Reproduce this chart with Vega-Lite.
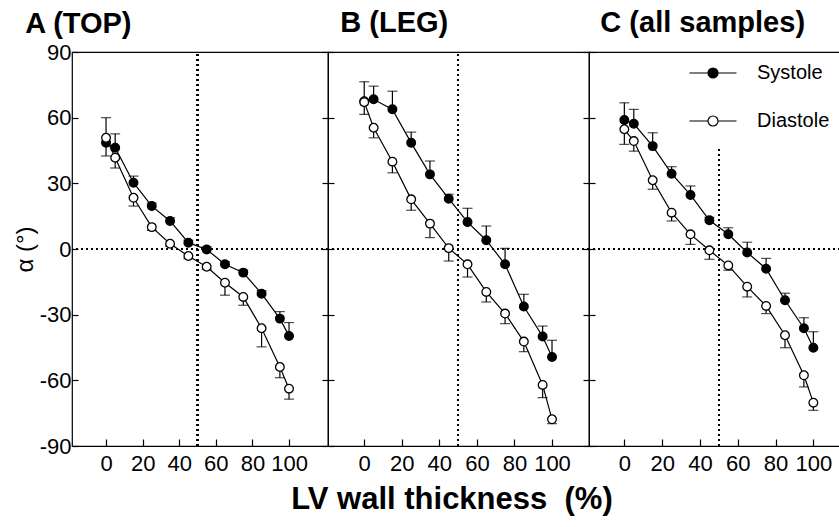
{
  "$schema": "https://vega.github.io/schema/vega-lite/v6.json",
  "padding": {"left": 12, "top": 8, "right": 0, "bottom": 4},
  "background": "white",
  "config": {
    "view": {"stroke": "black", "strokeWidth": 1.2},
    "font": "Liberation Sans",
    "axis": {"domain": false, "grid": false, "tickColor": "black", "labelColor": "black", "titleColor": "black", "labelFont": "Liberation Sans", "titleFont": "Liberation Sans", "tickWidth": 1.2}
  },
  "title": {"text": "LV wall thickness\u00a0\u00a0(%)", "orient": "bottom", "anchor": "middle", "fontSize": 31, "fontWeight": "bold", "font": "Liberation Sans", "color": "black", "offset": 10, "dx": 25},
  "spacing": 0,
  "bounds": "flush",
  "data": {"values": [
    {"p": "A", "s": "Systole", "x": 0, "y": 48.5, "e": 60},
    {"p": "A", "s": "Systole", "x": 5, "y": 46.3, "e": 52.6},
    {"p": "A", "s": "Systole", "x": 15, "y": 30.3, "e": 33.3},
    {"p": "A", "s": "Systole", "x": 25, "y": 19.6, "e": 21},
    {"p": "A", "s": "Systole", "x": 35, "y": 12.8, "e": 14.3},
    {"p": "A", "s": "Systole", "x": 45, "y": 2.9, "e": 4},
    {"p": "A", "s": "Systole", "x": 55, "y": -0.2, "e": 1},
    {"p": "A", "s": "Systole", "x": 65, "y": -7, "e": -5.8},
    {"p": "A", "s": "Systole", "x": 75, "y": -10.8, "e": -9.6},
    {"p": "A", "s": "Systole", "x": 85, "y": -20.4, "e": -19},
    {"p": "A", "s": "Systole", "x": 95, "y": -31.8, "e": -28.6},
    {"p": "A", "s": "Systole", "x": 100, "y": -39.7, "e": -33.6},
    {"p": "A", "s": "Diastole", "x": 0, "y": 50.8, "e": 42.5},
    {"p": "A", "s": "Diastole", "x": 5, "y": 41.7, "e": 37},
    {"p": "A", "s": "Diastole", "x": 15, "y": 23.4, "e": 19.6},
    {"p": "A", "s": "Diastole", "x": 25, "y": 10, "e": 8.5},
    {"p": "A", "s": "Diastole", "x": 35, "y": 2.4, "e": 1.2},
    {"p": "A", "s": "Diastole", "x": 45, "y": -3.2, "e": -4.4},
    {"p": "A", "s": "Diastole", "x": 55, "y": -8.1, "e": -9.3},
    {"p": "A", "s": "Diastole", "x": 65, "y": -15.4, "e": -21.1},
    {"p": "A", "s": "Diastole", "x": 75, "y": -21.9, "e": -25.7},
    {"p": "A", "s": "Diastole", "x": 85, "y": -36.2, "e": -44.7},
    {"p": "A", "s": "Diastole", "x": 95, "y": -53.9, "e": -58.8},
    {"p": "A", "s": "Diastole", "x": 100, "y": -63.8, "e": -68.6},
    {"p": "B", "s": "Systole", "x": 0, "y": 67.5, "e": 76.4},
    {"p": "B", "s": "Systole", "x": 5, "y": 68.4, "e": 74.4},
    {"p": "B", "s": "Systole", "x": 15, "y": 63.8, "e": 72.1},
    {"p": "B", "s": "Systole", "x": 25, "y": 48.5, "e": 53.4},
    {"p": "B", "s": "Systole", "x": 35, "y": 34.1, "e": 40.2},
    {"p": "B", "s": "Systole", "x": 45, "y": 23, "e": 25},
    {"p": "B", "s": "Systole", "x": 55, "y": 12.3, "e": 18.6},
    {"p": "B", "s": "Systole", "x": 65, "y": 4, "e": 10.5},
    {"p": "B", "s": "Systole", "x": 75, "y": -7, "e": 0.3},
    {"p": "B", "s": "Systole", "x": 85, "y": -26.3, "e": -20.7},
    {"p": "B", "s": "Systole", "x": 95, "y": -40, "e": -35.2},
    {"p": "B", "s": "Systole", "x": 100, "y": -49.3, "e": -41.7},
    {"p": "B", "s": "Diastole", "x": 0, "y": 67.1, "e": 61.5},
    {"p": "B", "s": "Diastole", "x": 5, "y": 55.4, "e": 50.8},
    {"p": "B", "s": "Diastole", "x": 15, "y": 39.9, "e": 34.8},
    {"p": "B", "s": "Diastole", "x": 25, "y": 22.7, "e": 17.7},
    {"p": "B", "s": "Diastole", "x": 35, "y": 11.6, "e": 5.2},
    {"p": "B", "s": "Diastole", "x": 45, "y": 0.4, "e": -5.5},
    {"p": "B", "s": "Diastole", "x": 55, "y": -7, "e": -12.8},
    {"p": "B", "s": "Diastole", "x": 65, "y": -19.6, "e": -24.2},
    {"p": "B", "s": "Diastole", "x": 75, "y": -29.5, "e": -34.1},
    {"p": "B", "s": "Diastole", "x": 85, "y": -42.3, "e": -46.9},
    {"p": "B", "s": "Diastole", "x": 95, "y": -62.1, "e": -67.9},
    {"p": "B", "s": "Diastole", "x": 100, "y": -77.8, "e": -79.8},
    {"p": "C", "s": "Systole", "x": 0, "y": 58.9, "e": 66.8},
    {"p": "C", "s": "Systole", "x": 5, "y": 57.2, "e": 63.8},
    {"p": "C", "s": "Systole", "x": 15, "y": 47, "e": 53.1},
    {"p": "C", "s": "Systole", "x": 25, "y": 34.4, "e": 37.6},
    {"p": "C", "s": "Systole", "x": 35, "y": 24.7, "e": 28.8},
    {"p": "C", "s": "Systole", "x": 45, "y": 13.1, "e": 14.5},
    {"p": "C", "s": "Systole", "x": 55, "y": 6.7, "e": 9.7},
    {"p": "C", "s": "Systole", "x": 65, "y": -1.6, "e": 3.1},
    {"p": "C", "s": "Systole", "x": 75, "y": -9, "e": -4.3},
    {"p": "C", "s": "Systole", "x": 85, "y": -23.4, "e": -20.2},
    {"p": "C", "s": "Systole", "x": 95, "y": -36.2, "e": -31.4},
    {"p": "C", "s": "Systole", "x": 100, "y": -45.1, "e": -37.8},
    {"p": "C", "s": "Diastole", "x": 0, "y": 54.7, "e": 47.8},
    {"p": "C", "s": "Diastole", "x": 5, "y": 49.3, "e": 44.7},
    {"p": "C", "s": "Diastole", "x": 15, "y": 31.4, "e": 27.3},
    {"p": "C", "s": "Diastole", "x": 25, "y": 16.6, "e": 12.8},
    {"p": "C", "s": "Diastole", "x": 35, "y": 6.7, "e": 2.1},
    {"p": "C", "s": "Diastole", "x": 45, "y": -0.6, "e": -4.7},
    {"p": "C", "s": "Diastole", "x": 55, "y": -7.5, "e": -9.7},
    {"p": "C", "s": "Diastole", "x": 65, "y": -17.2, "e": -21.9},
    {"p": "C", "s": "Diastole", "x": 75, "y": -26, "e": -29.5},
    {"p": "C", "s": "Diastole", "x": 85, "y": -39.4, "e": -45.1},
    {"p": "C", "s": "Diastole", "x": 95, "y": -57.7, "e": -63},
    {"p": "C", "s": "Diastole", "x": 100, "y": -70.2, "e": -73.7}
  ]},
  "hconcat": [
    {
      "width": 256, "height": 394,
      "title": {"text": "A (TOP)", "anchor": "start", "dx": 12, "fontSize": 29, "fontWeight": "bold", "font": "Liberation Sans", "color": "black", "offset": 2},
      "transform": [{"filter": "datum.p === 'A'"}],
      "resolve": {"axis": {"y": "independent"}},
      "layer": [
        {"mark": {"type": "rule", "strokeDash": [2, 3], "strokeWidth": 1.3, "color": "black"},
         "encoding": {
           "x": {"datum": 50, "type": "quantitative", "scale": {"domain": [-18.6, 121.3], "nice": false, "zero": false}},
           "y": {"datum": -90, "type": "quantitative", "scale": {"domain": [-90, 90], "nice": false, "zero": false}, "axis": null},
           "y2": {"datum": 90}}},
        {"mark": {"type": "rule", "strokeDash": [2, 3], "strokeWidth": 1.3, "color": "black"},
         "encoding": {"y": {"datum": 0, "type": "quantitative", "scale": {"domain": [-90, 90], "nice": false, "zero": false}, "axis": null}}},
        {"mark": {"type": "line", "color": "black", "strokeWidth": 1.2},
         "encoding": {
           "x": {"field": "x", "type": "quantitative", "scale": {"domain": [-18.6, 121.3], "nice": false, "zero": false},
                 "axis": {"values": [0, 20, 40, 60, 80, 100], "tickSize": -7, "labelPadding": 14, "labelFontSize": 22, "title": null, "labelFlush": false}},
           "y": {"field": "y", "type": "quantitative", "scale": {"domain": [-90, 90], "nice": false, "zero": false},
                 "axis": {"values": [-90, -60, -30, 0, 30, 60, 90], "tickSize": -6, "labelPadding": 7, "labelFontSize": 22, "labelFlush": false, "labelExpr": "replace(datum.label, '−', '-')", "title": "α (°)", "titleFontSize": 24, "titleFontWeight": "normal", "titlePadding": 2}},
           "detail": {"field": "s"}}},
        {"mark": {"type": "rule", "color": "black", "strokeWidth": 1.2},
         "encoding": {
           "x": {"field": "x", "type": "quantitative", "scale": {"domain": [-18.6, 121.3], "nice": false, "zero": false}},
           "y": {"field": "y", "type": "quantitative", "scale": {"domain": [-90, 90], "nice": false, "zero": false}, "axis": null},
           "y2": {"field": "e"}}},
        {"mark": {"type": "tick", "orient": "horizontal", "color": "black", "thickness": 1.2, "size": 10},
         "encoding": {
           "x": {"field": "x", "type": "quantitative", "scale": {"domain": [-18.6, 121.3], "nice": false, "zero": false}},
           "y": {"field": "e", "type": "quantitative", "scale": {"domain": [-90, 90], "nice": false, "zero": false},
                 "axis": {"orient": "right", "values": [-90, -60, -30, 0, 30, 60, 90], "tickSize": -6, "labels": false, "title": null, "minExtent": 0, "maxExtent": 0}}}},
        {"mark": {"type": "point", "shape": "circle", "filled": false, "stroke": "black", "strokeWidth": 1.3, "size": 75, "opacity": 1},
         "encoding": {
           "x": {"field": "x", "type": "quantitative", "scale": {"domain": [-18.6, 121.3], "nice": false, "zero": false}},
           "y": {"field": "y", "type": "quantitative", "scale": {"domain": [-90, 90], "nice": false, "zero": false}, "axis": null},
           "fill": {"field": "s", "type": "nominal", "scale": {"domain": ["Systole", "Diastole"], "range": ["black", "white"]}, "legend": null}}}
      ]
    },
    {
      "width": 261, "height": 394,
      "title": {"text": "B (LEG)", "anchor": "start", "dx": 13, "fontSize": 29, "fontWeight": "bold", "font": "Liberation Sans", "color": "black", "offset": 13},
      "transform": [{"filter": "datum.p === 'B'"}],
      "resolve": {"axis": {"y": "independent"}},
      "layer": [
        {"mark": {"type": "rule", "strokeDash": [2, 3], "strokeWidth": 1.3, "color": "black"},
         "encoding": {
           "x": {"datum": 50, "type": "quantitative", "scale": {"domain": [-19.3, 119.7], "nice": false, "zero": false}},
           "y": {"datum": -90, "type": "quantitative", "scale": {"domain": [-90, 90], "nice": false, "zero": false}, "axis": null},
           "y2": {"datum": 90}}},
        {"mark": {"type": "rule", "strokeDash": [2, 3], "strokeWidth": 1.3, "color": "black"},
         "encoding": {"y": {"datum": 0, "type": "quantitative", "scale": {"domain": [-90, 90], "nice": false, "zero": false}, "axis": null}}},
        {"mark": {"type": "line", "color": "black", "strokeWidth": 1.2},
         "encoding": {
           "x": {"field": "x", "type": "quantitative", "scale": {"domain": [-19.3, 119.7], "nice": false, "zero": false},
                 "axis": {"values": [0, 20, 40, 60, 80, 100], "tickSize": -7, "labelPadding": 14, "labelFontSize": 22, "title": null, "labelFlush": false}},
           "y": {"field": "y", "type": "quantitative", "scale": {"domain": [-90, 90], "nice": false, "zero": false},
                 "axis": {"values": [-90, -60, -30, 0, 30, 60, 90], "tickSize": -6, "labels": false, "title": null, "minExtent": 0, "maxExtent": 0}},
           "detail": {"field": "s"}}},
        {"mark": {"type": "rule", "color": "black", "strokeWidth": 1.2},
         "encoding": {
           "x": {"field": "x", "type": "quantitative", "scale": {"domain": [-19.3, 119.7], "nice": false, "zero": false}},
           "y": {"field": "y", "type": "quantitative", "scale": {"domain": [-90, 90], "nice": false, "zero": false}, "axis": null},
           "y2": {"field": "e"}}},
        {"mark": {"type": "tick", "orient": "horizontal", "color": "black", "thickness": 1.2, "size": 10},
         "encoding": {
           "x": {"field": "x", "type": "quantitative", "scale": {"domain": [-19.3, 119.7], "nice": false, "zero": false}},
           "y": {"field": "e", "type": "quantitative", "scale": {"domain": [-90, 90], "nice": false, "zero": false},
                 "axis": {"orient": "right", "values": [-90, -60, -30, 0, 30, 60, 90], "tickSize": -6, "labels": false, "title": null, "minExtent": 0, "maxExtent": 0}}}},
        {"mark": {"type": "point", "shape": "circle", "filled": false, "stroke": "black", "strokeWidth": 1.3, "size": 75, "opacity": 1},
         "encoding": {
           "x": {"field": "x", "type": "quantitative", "scale": {"domain": [-19.3, 119.7], "nice": false, "zero": false}},
           "y": {"field": "y", "type": "quantitative", "scale": {"domain": [-90, 90], "nice": false, "zero": false}, "axis": null},
           "fill": {"field": "s", "type": "nominal", "scale": {"domain": ["Systole", "Diastole"], "range": ["black", "white"]}, "legend": null}}}
      ]
    },
    {
      "width": 251, "height": 394,
      "title": {"text": "C (all samples)", "anchor": "start", "dx": 12, "fontSize": 29, "fontWeight": "bold", "font": "Liberation Sans", "color": "black", "offset": 13},
      "transform": [{"filter": "datum.p === 'C'"}],
      "resolve": {"axis": {"y": "independent"}},
      "layer": [
        {"mark": {"type": "rule", "strokeDash": [2, 3], "strokeWidth": 1.3, "color": "black"},
         "encoding": {
           "x": {"datum": 50, "type": "quantitative", "scale": {"domain": [-18.7, 114.1], "nice": false, "zero": false}},
           "y": {"datum": -90, "type": "quantitative", "scale": {"domain": [-90, 90], "nice": false, "zero": false}, "axis": null},
           "y2": {"datum": 46}}},
        {"mark": {"type": "rule", "strokeDash": [2, 3], "strokeWidth": 1.3, "color": "black"},
         "encoding": {"y": {"datum": 0, "type": "quantitative", "scale": {"domain": [-90, 90], "nice": false, "zero": false}, "axis": null}}},
        {"mark": {"type": "line", "color": "black", "strokeWidth": 1.2},
         "encoding": {
           "x": {"field": "x", "type": "quantitative", "scale": {"domain": [-18.7, 114.1], "nice": false, "zero": false},
                 "axis": {"values": [0, 20, 40, 60, 80, 100], "tickSize": -7, "labelPadding": 14, "labelFontSize": 22, "title": null, "labelFlush": false}},
           "y": {"field": "y", "type": "quantitative", "scale": {"domain": [-90, 90], "nice": false, "zero": false},
                 "axis": {"values": [-90, -60, -30, 0, 30, 60, 90], "tickSize": -6, "labels": false, "title": null, "minExtent": 0, "maxExtent": 0}},
           "detail": {"field": "s"}}},
        {"mark": {"type": "rule", "color": "black", "strokeWidth": 1.2},
         "encoding": {
           "x": {"field": "x", "type": "quantitative", "scale": {"domain": [-18.7, 114.1], "nice": false, "zero": false}},
           "y": {"field": "y", "type": "quantitative", "scale": {"domain": [-90, 90], "nice": false, "zero": false}, "axis": null},
           "y2": {"field": "e"}}},
        {"mark": {"type": "tick", "orient": "horizontal", "color": "black", "thickness": 1.2, "size": 10},
         "encoding": {
           "x": {"field": "x", "type": "quantitative", "scale": {"domain": [-18.7, 114.1], "nice": false, "zero": false}},
           "y": {"field": "e", "type": "quantitative", "scale": {"domain": [-90, 90], "nice": false, "zero": false}, "axis": null}}},
        {"mark": {"type": "point", "shape": "circle", "filled": false, "stroke": "black", "strokeWidth": 1.3, "size": 75, "opacity": 1},
         "encoding": {
           "x": {"field": "x", "type": "quantitative", "scale": {"domain": [-18.7, 114.1], "nice": false, "zero": false}},
           "y": {"field": "y", "type": "quantitative", "scale": {"domain": [-90, 90], "nice": false, "zero": false}, "axis": null},
           "fill": {"field": "s", "type": "nominal", "scale": {"domain": ["Systole", "Diastole"], "range": ["black", "white"]},
                    "legend": {"title": null, "orient": "none", "legendX": 114, "legendY": 11, "padding": 0,
                               "symbolType": "M-4.7,0L-1,0M1,0L4.7,0M-1,0A1,1,0,1,0,1,0A1,1,0,1,0,-1,0Z",
                               "symbolSize": 100, "symbolStrokeColor": "black", "symbolStrokeWidth": 1.2,
                               "labelFontSize": 20, "labelFont": "Liberation Sans", "labelColor": "black", "labelOffset": 34, "rowPadding": 28}}}}
      ]
    }
  ],
  "resolve": {"legend": {"fill": "independent"}}
}
